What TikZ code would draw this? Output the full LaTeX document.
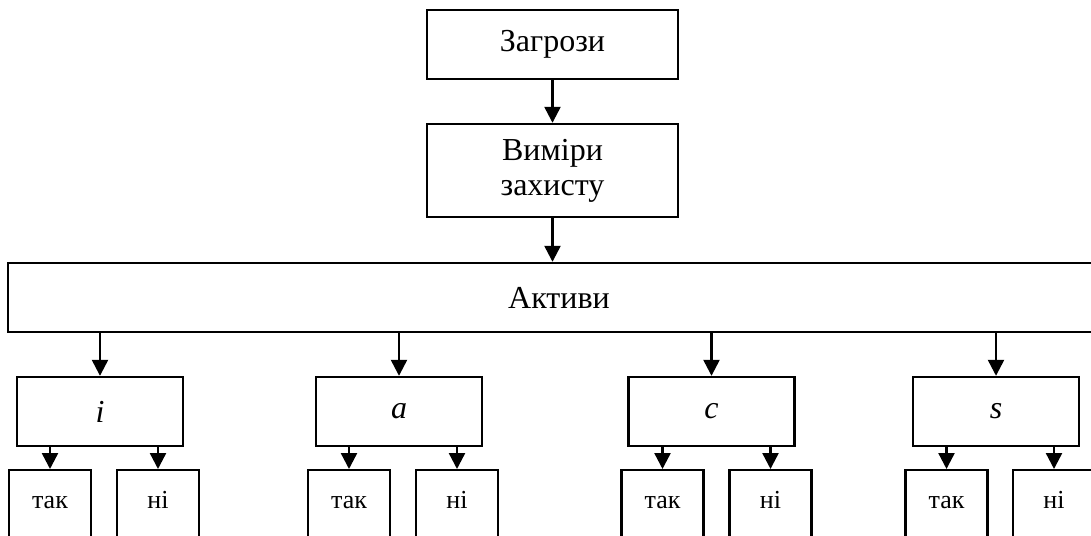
\documentclass[tikz,border=0pt]{standalone}
\usepackage{fontspec}
\setmainfont{Liberation Serif}
\usetikzlibrary{arrows.meta}
\begin{document}
\begin{tikzpicture}[x=1pt,y=-1pt,
  box/.style={draw,line width=2.4pt,inner sep=0pt,font=\fontsize{32}{35}\selectfont,align=center},
  grp/.style={box,minimum width=166pt,minimum height=69pt,font=\fontsize{32}{35}\selectfont\itshape},
  sub/.style={draw,line width=2.4pt,inner xsep=0pt,inner ysep=0pt,minimum width=82pt,text height=38pt,text depth=80pt,anchor=north,font=\fontsize{26}{28}\selectfont},
  arr/.style={line width=2.4pt,-{Triangle[width=16pt,length=16pt]}}]
\useasboundingbox (0,0) rectangle (1091,535);
\clip (0,0) rectangle (1091,535);
\node[box,minimum width=251pt,minimum height=69pt] (zag) at (552.5,44.5) {Загрози};
\node[box,minimum width=251pt,minimum height=93pt] (vim) at (552.5,170.5) {Виміри\\захисту};
\node[box,minimum width=1102pt,minimum height=69pt] (akt) at (559,297.5) {Активи};
\draw[arr] (zag) -- (vim);
\draw[arr] (vim) -- (vim.south |- akt.north);
% groups
\node[grp] (gi) at (100,411.5) {i};
\node[grp] (ga) at (399,411.5) {a};
\node[grp] (gc) at (711.5,411.5) {c};
\node[grp] (gs) at (996,411.5) {s};
\foreach \g in {gi,ga,gc,gs}{
  \draw[arr] (\g.north |- akt.south) -- (\g.north);
}
% sub boxes
\node[sub] (ti) at (50,469) {так};
\node[sub] (ni) at (158,469) {ні};
\node[sub] (ta) at (349,469) {так};
\node[sub] (na) at (457,469) {ні};
\node[sub] (tc) at (662.5,469) {так};
\node[sub] (nc) at (770.5,469) {ні};
\node[sub] (ts) at (946.5,469) {так};
\node[sub] (ns) at (1054,469) {ні};
\draw[arr] (ti.north |- gi.south) -- (ti.north);
\draw[arr] (ni.north |- gi.south) -- (ni.north);
\draw[arr] (ta.north |- ga.south) -- (ta.north);
\draw[arr] (na.north |- ga.south) -- (na.north);
\draw[arr] (tc.north |- gc.south) -- (tc.north);
\draw[arr] (nc.north |- gc.south) -- (nc.north);
\draw[arr] (ts.north |- gs.south) -- (ts.north);
\draw[arr] (ns.north |- gs.south) -- (ns.north);
\end{tikzpicture}
\end{document}
